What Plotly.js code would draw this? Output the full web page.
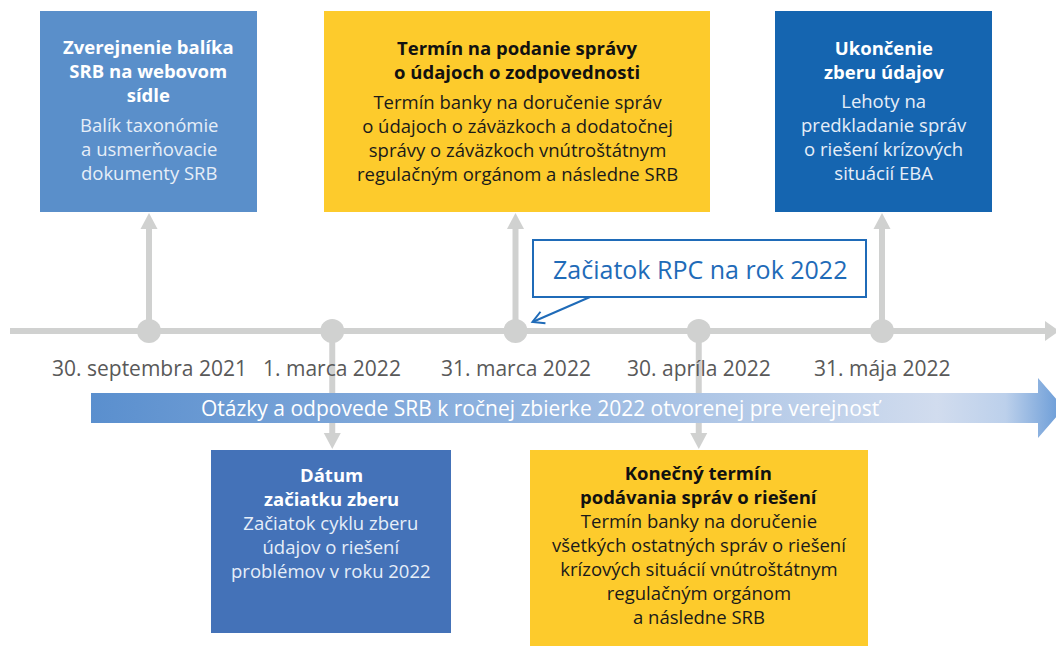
<!DOCTYPE html>
<html>
<head>
<meta charset="utf-8">
<script src="https://cdn.plot.ly/plotly-3.0.1.min.js"></script>
<style>html,body{margin:0;padding:0;background:#fff;}#chart{width:1056px;height:646px;}</style>
</head>
<body>
<div id="chart"></div>
<script>
// ---- data ----
const dates = ['30. septembra 2021', '1. marca 2022', '31. marca 2022', '30. apríla 2022', '31. mája 2022'];
const milestoneIndex = [0, 1, 2, 3, 4];
const directions = ['up', 'down', 'up', 'down', 'up'];
const titles = [
  'Zverejnenie balíka<br>SRB na webovom<br>sídle',
  'Dátum<br>začiatku zberu',
  'Termín na podanie správy<br>o údajoch o zodpovednosti',
  'Konečný termín<br>podávania správ o riešení',
  'Ukončenie<br>zberu údajov'
];
const descriptions = [
  'Balík taxonómie<br>a usmerňovacie<br>dokumenty SRB',
  'Začiatok cyklu zberu<br>údajov o riešení<br>problémov v roku 2022',
  'Termín banky na doručenie správ<br>o údajoch o záväzkoch a dodatočnej<br>správy o záväzkoch vnútroštátnym<br>regulačným orgánom a následne SRB',
  'Termín banky na doručenie<br>všetkých ostatných správ o riešení<br>krízových situácií vnútroštátnym<br>regulačným orgánom<br>a následne SRB',
  'Lehoty na<br>predkladanie správ<br>o riešení krízových<br>situácií EBA'
];
const boxColors = ['#5A8FCA', '#4472B8', '#FDCB2C', '#FDCB2C', '#1565B0'];
const titleColors = ['#ffffff', '#ffffff', '#111111', '#111111', '#ffffff'];
const descColors = ['#E6EEF8', '#E6EEF8', '#1a1a1a', '#1a1a1a', '#E6EEF8'];
const calloutText = 'Začiatok RPC na rok 2022';
const calloutTarget = 2;
const bandText = 'Otázky a odpovede SRB k ročnej zbierke 2022 otvorenej pre verejnosť';

// ---- layout geometry (pixel-like units on y, index units on x) ----
const PX0 = 149, STEP = 183.25;
function X(px) { return (px - PX0) / STEP; }
function P(idx) { return PX0 + idx * STEP; }
const boxGeom = [
  {x0: 40, x1: 257, y0: 11, y1: 212, tY: 70, dY: 148},
  {x0: 211, x1: 451, y0: 450, y1: 633, tY: 486.5, dY: 546},
  {x0: 324, x1: 710, y0: 11, y1: 212, tY: 59.5, dY: 137.5},
  {x0: 530, x1: 868, y0: 450, y1: 646, tY: 484.5, dY: 568},
  {x0: 775, x1: 992, y0: 11, y1: 212, tY: 59.5, dY: 136.5}
];
const LINE_Y = 331, GRAY = '#D0D1D0';
const BOX_FONT = 18.5;

const shapes = [];
const annotations = [];

// boxes
milestoneIndex.forEach((i) => {
  const g = boxGeom[i];
  shapes.push({type: 'rect', layer: 'below', x0: X(g.x0), x1: X(g.x1), y0: g.y0, y1: g.y1,
    fillcolor: boxColors[i], line: {width: 0}});
});

// main timeline
shapes.push({type: 'line', layer: 'below', x0: X(10), x1: X(1048), y0: LINE_Y, y1: LINE_Y, line: {color: GRAY, width: 6}});
shapes.push({type: 'path', layer: 'below', path: `M${X(1045)},${LINE_Y - 10} L${X(1059)},${LINE_Y} L${X(1045)},${LINE_Y + 10} Z`,
  fillcolor: GRAY, line: {width: 0}});

// connectors, arrowheads, dots, texts
milestoneIndex.forEach((i) => {
  const up = directions[i] === 'up';
  const endY = up ? 229 : 433;
  const tipY = up ? 213 : 449;
  shapes.push({type: 'line', layer: 'below', x0: i, x1: i, y0: LINE_Y, y1: endY, line: {color: GRAY, width: 6}});
  shapes.push({type: 'path', layer: 'below',
    path: `M${X(P(i) - 8.5)},${endY} L${i},${tipY} L${X(P(i) + 8.5)},${endY} Z`,
    fillcolor: GRAY, line: {width: 0}});
  shapes.push({type: 'circle', layer: 'below', x0: X(P(i) - 12), x1: X(P(i) + 12), y0: LINE_Y - 12, y1: LINE_Y + 12,
    fillcolor: GRAY, line: {width: 0}});
  annotations.push({x: i, y: 368, text: dates[i], showarrow: false, xanchor: 'center', yanchor: 'middle',
    font: {family: 'Open Sans', size: 21, color: '#595959'}});
  const g = boxGeom[i];
  const cx = X((g.x0 + g.x1) / 2);
  annotations.push({x: cx, y: g.tY, text: '<b>' + titles[i].split('<br>').join('</b><br><b>') + '</b>',
    showarrow: false, xanchor: 'center', yanchor: 'middle', align: 'center', borderpad: 0,
    font: {family: 'Open Sans', size: BOX_FONT, color: titleColors[i]}});
  annotations.push({x: cx, y: g.dY, text: descriptions[i],
    showarrow: false, xanchor: 'center', yanchor: 'middle', align: 'center', borderpad: 0,
    font: {family: 'Open Sans', size: BOX_FONT, color: descColors[i]}});
});

// callout
const CB = {x0: 533, x1: 866, y0: 240, y1: 297};
shapes.push({type: 'rect', layer: 'above', x0: X(CB.x0), x1: X(CB.x1), y0: CB.y0, y1: CB.y1,
  fillcolor: '#ffffff', line: {color: '#1F6BB8', width: 2}});
annotations.push({x: X((CB.x0 + CB.x1) / 2), y: (CB.y0 + CB.y1) / 2, text: calloutText, showarrow: false,
  xanchor: 'center', yanchor: 'middle', font: {family: 'Open Sans', size: 25, color: '#1F6BB8'}});
(function () {
  const sx = 590, sy = 297, ex = P(calloutTarget) + 17, ey = 322;
  shapes.push({type: 'line', layer: 'above', x0: X(sx), x1: X(ex), y0: sy, y1: ey, line: {color: '#1F6BB8', width: 2}});
  const dx = sx - ex, dy = sy - ey, L = Math.hypot(dx, dy);
  const ux = dx / L, uy = dy / L, len = 13, a = 0.5;
  const c = Math.cos(a), s = Math.sin(a);
  const p1 = [ex + len * (ux * c - uy * s), ey + len * (ux * s + uy * c)];
  const p2 = [ex + len * (ux * c + uy * s), ey + len * (-ux * s + uy * c)];
  shapes.push({type: 'path', layer: 'above', path: `M${X(p1[0])},${p1[1]} L${X(ex)},${ey} L${X(p2[0])},${p2[1]}`,
    line: {color: '#1F6BB8', width: 2}});
})();

// gradient band arrow
const bandX = [91, 1038, 1038, 1064, 1038, 1038, 91, 91].map(X);
const bandY = [393, 393, 378, 408, 438, 423, 423, 393];
const band = {
  type: 'scatter', mode: 'lines', x: bandX, y: bandY, fill: 'toself', hoverinfo: 'skip',
  line: {width: 0, color: 'rgba(0,0,0,0)'},
  fillgradient: {type: 'horizontal', colorscale: [
    [0, '#5A8FCE'], [0.45, '#93B5E0'], [0.87, '#D1DCEE'], [0.94, '#BCD0EB'], [1, '#6699D6']]}
};
annotations.push({x: X(541), y: 408, text: bandText, showarrow: false, xanchor: 'center', yanchor: 'middle',
  font: {family: 'Open Sans', size: 21, color: '#ffffff'}});

const layout = {
  width: 1056, height: 646, margin: {l: 0, r: 0, t: 0, b: 0},
  paper_bgcolor: '#ffffff', plot_bgcolor: '#ffffff', showlegend: false,
  xaxis: {range: [X(0), X(1056)], visible: false, fixedrange: true},
  yaxis: {range: [646, 0], visible: false, fixedrange: true},
  shapes: shapes, annotations: annotations
};
Plotly.newPlot('chart', [band], layout, {displayModeBar: false, staticPlot: true});
</script>
</body>
</html>
